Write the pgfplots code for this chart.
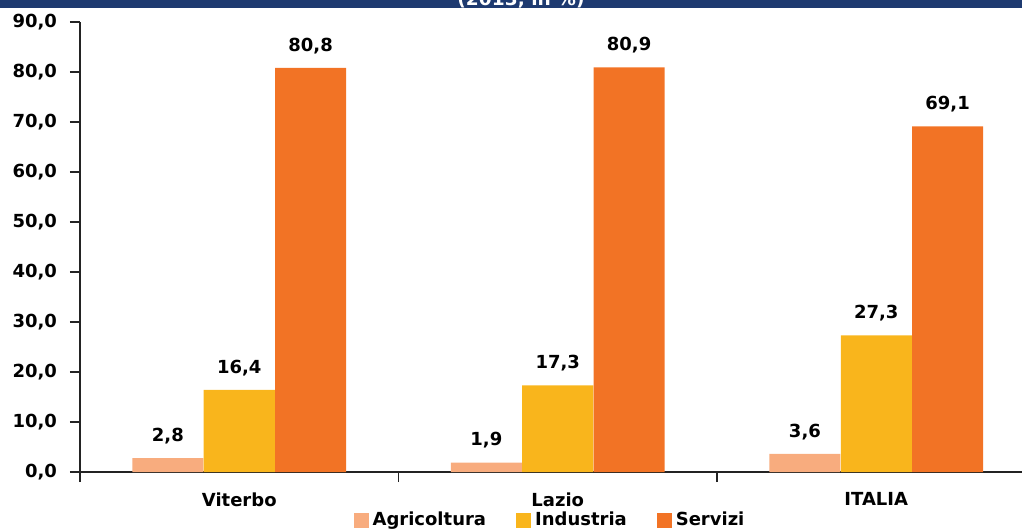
\documentclass[border=0pt]{standalone}
\usepackage{fontspec}
\setmainfont{DejaVu Sans}
\usepackage{pgfplots}
\pgfplotsset{compat=1.18}
\definecolor{agri}{RGB}{248,172,126}
\definecolor{indu}{RGB}{249,181,28}
\definecolor{serv}{RGB}{242,115,37}
\definecolor{navy}{RGB}{30,58,112}
\definecolor{axc}{RGB}{35,35,35}
\newcommand\lbl{\fontsize{9}{10.5}\selectfont\bfseries}
\pgfplotsset{sqleg/.style={legend image code/.code={\fill[##1] (0pt,-3.75pt) rectangle (7.5pt,3.75pt);}}}
\begin{document}
\begin{tikzpicture}
\begin{axis}[
 scale only axis, width=471pt, height=225pt,
 xmin=-0.5, xmax=2.4576, ymin=0, ymax=90,
 axis x line*=bottom, axis y line*=left,
 axis line style={axc, line width=0.9pt},
 ytick={0,10,...,90},
 xtick={-0.5,0.5,1.5}, xticklabels={},
 extra x ticks={0,1,2}, extra x tick labels={Viterbo,Lazio,ITALIA},
 extra x tick style={tick style={draw=none}},
 tick align=outside, major tick length=5pt,
 tick style={axc, line width=0.9pt},
 /pgf/number format/fixed, /pgf/number format/fixed zerofill,
 /pgf/number format/precision=1, /pgf/number format/use comma,
 /pgf/number format/assume math mode=true,
 tick label style={font=\lbl, text=black},
 yticklabel style={xshift=-3pt},
 xticklabel style={yshift=-1.8pt},
 ybar, bar width=0.223,
 nodes near coords,
 every node near coord/.append style={font=\lbl, text=black, anchor=south, yshift=3.5pt},
 legend style={draw=none, fill=none, legend columns=3, at={(0.5,-0.108)}, anchor=center, font=\lbl,
   /tikz/every even column/.append style={column sep=13pt}},
]
\addplot[fill=agri, draw=none, bar shift=-0.224, sqleg] coordinates {(0,2.8) (1,1.9) (2,3.6)};
\addplot[fill=indu, draw=none, bar shift=0, sqleg] coordinates {(0,16.4) (1,17.3) (2,27.3)};
\addplot[fill=serv, draw=none, bar shift=0.224, sqleg] coordinates {(0,80.8) (1,80.9) (2,69.1)};
\legend{Agricoltura, Industria, Servizi}
\end{axis}
\fill[navy] (-40pt,232pt) rectangle (471pt,236pt);
\node[overlay, text=white, font=\fontsize{9.3}{11}\selectfont\bfseries, anchor=base] at (220.5pt,233pt) {(2013, in \%)};
\pgfresetboundingbox
\useasboundingbox (-40pt,-29pt) rectangle (471pt,236pt);
\end{tikzpicture}
\end{document}
